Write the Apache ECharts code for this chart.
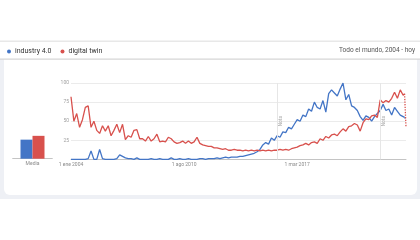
<!DOCTYPE html>
<html>
<head>
<meta charset="utf-8">
<script src="https://cdn.jsdelivr.net/npm/echarts@6/dist/echarts.min.js"></script>
<style>
html,body{margin:0;padding:0;background:#fff;}
#c{width:420px;height:240px;}
</style>
</head>
<body>
<div id="c"></div>
<script>
// ---- data ----
const seriesNames = ['industry 4.0', 'digital twin'];
const monthStep = 2; // values below are every 2 months starting Jan 2004 (month index 0)
const blueVals = [0,0,0,0,0,0,1,11,0,0,
  13,1,0,0,0,0,1,6,4,2,
  1,1,0,2,0,0,0,0,1,0,
  0,1,0,0,0,2,0,0,1,0,
  0,1,0,0,0,1,1,0,1,1,
  1,2,1,2,3,2,3,3,3,
  4,4,5,6,7,8,10,13,19,22,
  20,28,25,31,29,36,35,42,40,46,
  52,50,58,56,66,63,75,68,66,77,
  62,86,91,87,83,92,100,78,85,70,
  68,64,56,51,57,55,50,56,60,64,
  72,64,66,58,68,63,58,56];
const redVals = [82,50,60,42,52,68,70,42,50,38,
  34,44,37,44,31,38,46,35,46,26,
  31,29,38,39,27,27,24,30,24,27,
  33,23,24,23,29,27,23,21,22,24,
  21,24,21,23,29,21,19,18,17,17,
  15,15,14,13,14,12,12,13,12,
  12,11,12,11,12,11,12,11,12,11,
  12,11,12,12,13,12,13,12,14,15,
  16,18,19,21,19,22,23,21,27,25,
  30,28,32,33,31,36,40,37,43,44,
  47,45,37,48,53,52,57,58,55,78,
  74,77,75,80,88,80,91,84];
// last complete month and partial (current) month
const tailMonths = [233, 234];
const blueTail = [55, 52];
const redTail = [86, 42];
const noteMonths = [144, 216]; // Jan 2016, Jan 2022
const mediaCats = ['Media'];
const mediaVals = [25, 30];
const xTickMonths = [0, 79, 158];
const xTickLabels = ['1 ene 2004', '1 ago 2010', '1 mar 2017'];
const yTickLabels = ['', '25', '50', '75', '100'];
const regionText = 'Todo el mundo, 2004 - hoy';
const colors = ['#4375c6', '#d8514d'];

// ---- build ----
function pairs(vals, tail) {
  const d = vals.map((v, i) => [i * monthStep, v]);
  d.push([tailMonths[0], tail[0]]);
  return d;
}
const FONT = 'Roboto';
const chart = echarts.init(document.getElementById('c'), null, {renderer: 'canvas'});
chart.setOption({
  animation: false,
  backgroundColor: '#ffffff',
  textStyle: {fontFamily: FONT},
  graphic: [
    {type: 'rect', z: -10, shape: {x: 0, y: 59, width: 420, height: 140}, style: {fill: '#eef0f5'}, silent: true},
    {type: 'rect', z: -9, shape: {x: 4, y: 59, width: 413, height: 136, r: [0, 0, 6, 6]}, style: {fill: '#ffffff'}, silent: true},
    {type: 'rect', z: -9, shape: {x: 0, y: 40.5, width: 420, height: 1.5}, style: {fill: '#e8e8e8'}, silent: true},
    {type: 'rect', z: -9, shape: {x: 0, y: 58.5, width: 420, height: 1.2}, style: {fill: '#d6d6d6'}, silent: true},
    {type: 'text', z: 5, x: 415, y: 50, style: {text: regionText, fill: '#555', font: '6.5px Roboto', align: 'right', verticalAlign: 'middle'}}
  ],
  legend: {
    data: seriesNames,
    left: 2, top: 43,
    icon: 'circle', itemWidth: 4, itemHeight: 4, itemGap: 9,
    textStyle: {fontSize: 7, color: '#333', fontFamily: FONT, padding: [0, 0, 0, -1]}
  },
  grid: [
    {left: 71, right: 14, top: 83, bottom: 80.6},
    {left: 12.7, width: 39.6, top: 82.5, bottom: 81.3}
  ],
  xAxis: [
    {type: 'value', gridIndex: 0, min: 0, max: tailMonths[1], interval: 79,
      axisLine: {show: true, lineStyle: {color: '#c4c4c4', width: 1}},
      axisTick: {show: false}, splitLine: {show: false},
      axisLabel: {fontSize: 5, color: '#8a8a8a', margin: 3, fontFamily: FONT, showMaxLabel: false,
        formatter: v => { const k = xTickMonths.indexOf(v); return k < 0 ? '' : xTickLabels[k]; }}},
    {type: 'category', gridIndex: 1, data: mediaCats,
      axisLine: {show: true, lineStyle: {color: '#c4c4c4'}}, axisTick: {show: false},
      axisLabel: {fontSize: 5, color: '#8a8a8a', margin: 3, fontFamily: FONT}}
  ],
  yAxis: [
    {type: 'value', gridIndex: 0, min: 0, max: 100, interval: 25,
      axisLine: {show: false}, axisTick: {show: false},
      splitLine: {lineStyle: {color: '#ebebeb', width: 1}},
      axisLabel: {fontSize: 5, color: '#a0a0a0', margin: 2, fontFamily: FONT,
        formatter: v => yTickLabels[Math.round(v / 25)] || ''}},
    {type: 'value', gridIndex: 1, min: 0, max: 100, show: false}
  ],
  series: [
    {name: seriesNames[0], type: 'line', xAxisIndex: 0, yAxisIndex: 0, data: pairs(blueVals, blueTail),
      showSymbol: false, color: colors[0], lineStyle: {width: 1.3}, z: 3,
      markLine: {silent: true, symbol: 'none',
        lineStyle: {color: '#e6e6e6', width: 1, type: 'solid'},
        label: {show: true, formatter: 'Nota', position: 'insideMiddleBottom', fontSize: 5, color: '#a8a8a8', distance: 1},
        data: noteMonths.map(m => ({xAxis: m}))}},
    {name: seriesNames[0], type: 'line', xAxisIndex: 0, yAxisIndex: 0,
      data: tailMonths.map((m, i) => [m, blueTail[i]]),
      showSymbol: false, color: colors[0], lineStyle: {width: 1.3, type: 'dotted'}, z: 3},
    {name: seriesNames[1], type: 'line', xAxisIndex: 0, yAxisIndex: 0, data: pairs(redVals, redTail),
      showSymbol: false, color: colors[1], lineStyle: {width: 1.3}, z: 4},
    {name: seriesNames[1], type: 'line', xAxisIndex: 0, yAxisIndex: 0,
      data: tailMonths.map((m, i) => [m, redTail[i]]),
      showSymbol: false, color: colors[1], lineStyle: {width: 1.3, type: 'dotted'}, z: 4},
    {name: seriesNames[0], type: 'bar', xAxisIndex: 1, yAxisIndex: 1, data: [mediaVals[0]],
      barWidth: 12, barGap: '0%', color: colors[0]},
    {name: seriesNames[1], type: 'bar', xAxisIndex: 1, yAxisIndex: 1, data: [mediaVals[1]],
      barWidth: 12, barGap: '0%', color: colors[1]}
  ]
});
</script>
</body>
</html>
